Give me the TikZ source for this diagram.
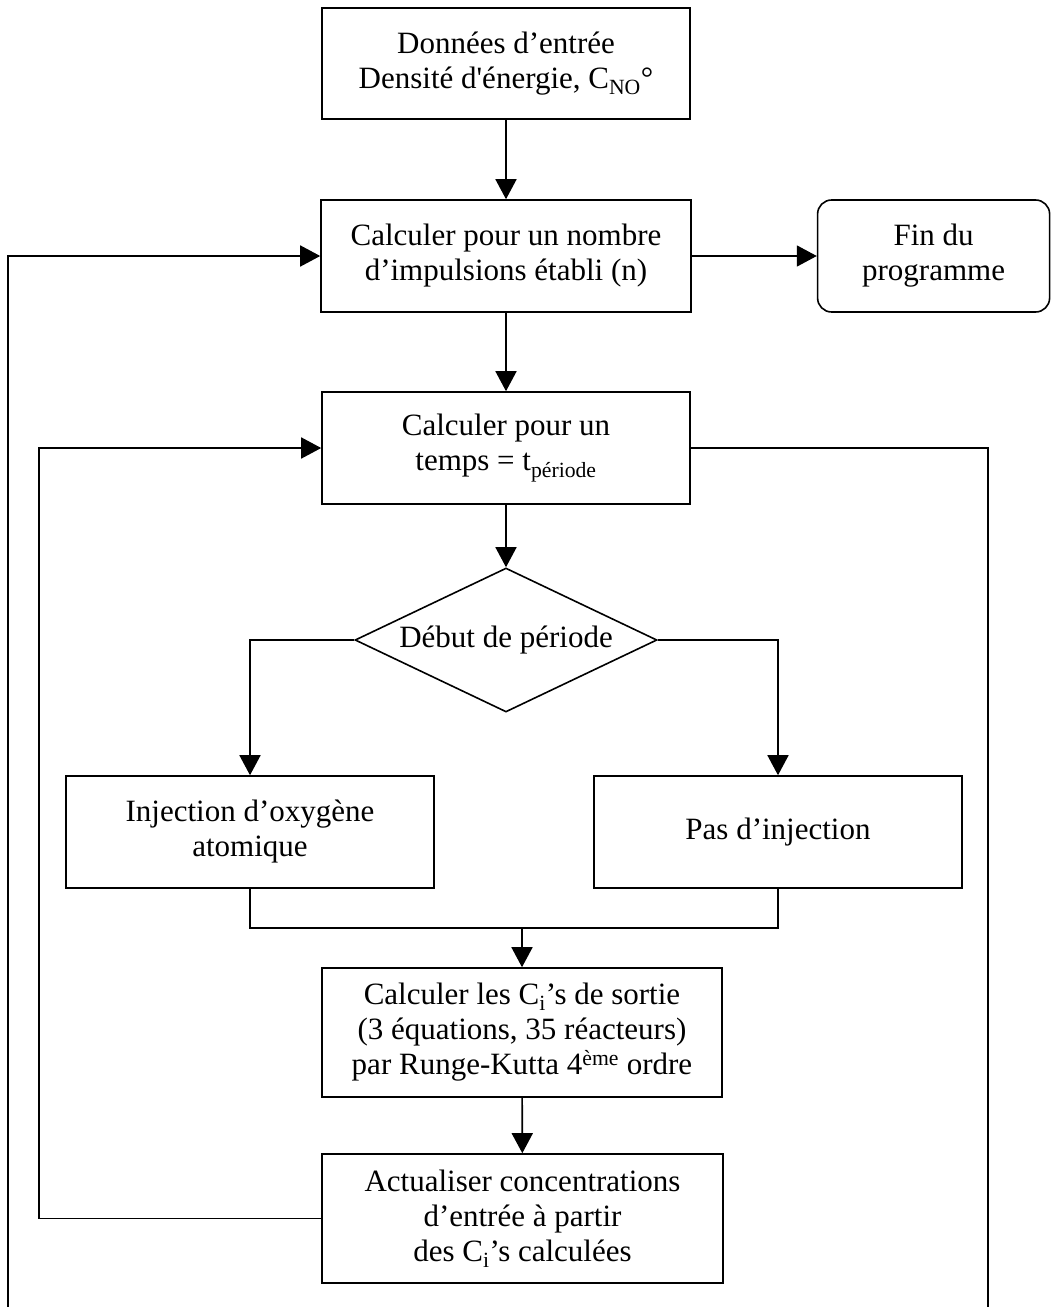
\documentclass[tikz,border=0pt]{standalone}
\usepackage{fontspec}
\setmainfont{Liberation Serif}
\usetikzlibrary{shapes.geometric, arrows.meta, positioning}
\newcommand{\flowfont}{\fontsize{31}{35}\selectfont}
\tikzset{
  flowbox/.style={
    rectangle, draw=black, line width=1.6pt,
    align=center, font=\flowfont,
    inner sep=4pt
  },
  endbox/.style={flowbox, rounded corners=14pt},
  testbox/.style={
    diamond, draw=black, line width=1.6pt,
    aspect=2.1, inner sep=0pt, font=\flowfont,
    minimum width=302pt, minimum height=144pt
  },
  flowarrow/.style={-{Triangle[length=20pt,width=21pt]}, line width=1.6pt, black},
  flowline/.style={line width=1.6pt, black}
}

\begin{document}
\begin{tikzpicture}[x=1pt, y=-1pt]
    \useasboundingbox (0,0) rectangle (1052,1307);
    \node[flowbox, minimum width=368pt, minimum height=111pt] (entree) at (506,63.5)
      {Données d’entrée\\Densité d\textquotesingle énergie, C\textsubscript{NO}°};
    \node[flowbox, minimum width=370pt, minimum height=112pt] (nombre) at (506,256)
      {Calculer pour un nombre\\ d’impulsions établi (n)};
    \node[endbox, minimum width=232pt, minimum height=112pt, right=125pt of nombre] (fin)
      {Fin du\\programme};
    \node[flowbox, minimum width=368pt, minimum height=112pt] (temps) at (506,448)
      {Calculer pour un\\temps = t\textsubscript{période}};
    \node[testbox] (debut) at (506,640) {Début de période};
    \node[flowbox, minimum width=368pt, minimum height=112pt] (oxy) at (250,832)
      {Injection d’oxygène\\atomique};
    \node[flowbox, minimum width=368pt, minimum height=112pt] (pasinj) at (778,832)
      {Pas d’injection};
    \node[flowbox, minimum width=400pt, minimum height=129pt] (sortie) at (522,1032.5)
      {Calculer les C\textsubscript{i}’s de sortie\\(3 équations, 35 réacteurs)\\par Runge-Kutta 4\textsuperscript{ème} ordre};
    \node[flowbox, minimum width=401pt, minimum height=129pt] (actu) at (522.5,1218.5)
      {Actualiser concentrations\\d’entrée à partir\\des C\textsubscript{i}’s calculées};

    % loose ends of the loops and the merge point
    \coordinate (basg) at (8,1307);
    \coordinate (basd) at (988,1307);
    \coordinate (jonction) at (522,928);

    \draw[flowarrow] (entree) -- (nombre);
    \draw[flowarrow] (nombre) -- (fin);
    \draw[flowarrow] (nombre) -- (temps);
    \draw[flowarrow] (temps) -- (debut);
    \draw[flowarrow] (debut.west) -| (oxy.north);
    \draw[flowarrow] (debut.east) -| (pasinj.north);
    \draw[flowline] (oxy.south) |- (jonction) -| (pasinj.south);
    \draw[flowarrow] (jonction) -- (sortie);
    \draw[flowarrow] (sortie) -- (actu);
    % inner loop back to the period box
    \draw[flowarrow] (actu.west) -- ++(-282,0) |- (temps.west);
    % outer loop back to the pulse count box
    \draw[flowarrow] (basg) |- (nombre.west);
    \draw[flowline] (temps.east) -| (basd);
  \end{tikzpicture}
\end{document}
